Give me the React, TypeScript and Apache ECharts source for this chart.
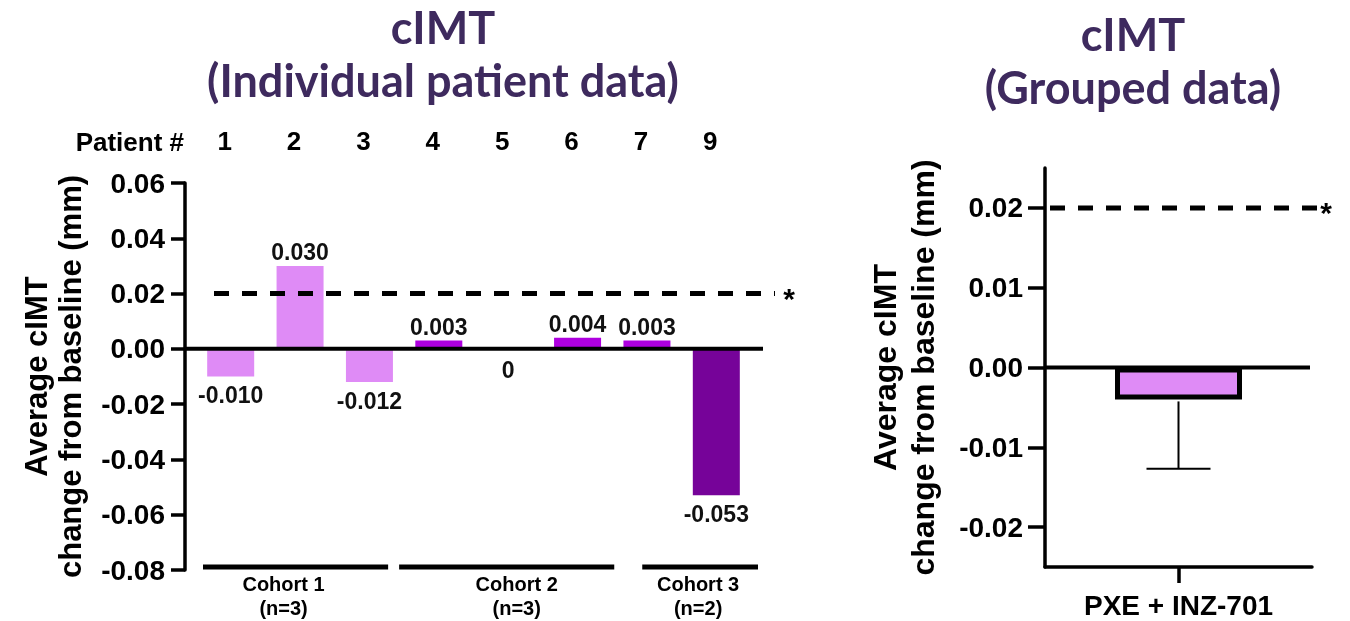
import { useEffect, useRef } from "react";
import * as echarts from "echarts";

// ---------- data ----------
const patients = ["1", "2", "3", "4", "5", "6", "7", "9"];
const changes = [-0.01, 0.03, -0.012, 0.003, 0, 0.004, 0.003, -0.053];
const cohortNames = ["Cohort 1", "Cohort 2", "Cohort 3"];
const cohortSizes = ["(n=3)", "(n=3)", "(n=2)"];
const cohortFirst = [0, 3, 6];
const cohortLast = [2, 5, 7];
const leftTicks = { min: -0.08, max: 0.06, interval: 0.02 };
const threshold = 0.02;

const groupNames = ["PXE + INZ-701"];
const groupMean = [-0.004];
const groupErr = [0.0087];
const rightTicks = [-0.02, -0.01, 0, 0.01, 0.02];
const rightRange = { min: -0.025, max: 0.025 };

const leftTitle = ["cIMT", "(Individual patient data)"];
const rightTitle = ["cIMT", "(Grouped data)"];

// ---------- styles / layout ----------
const barColors = ["#DF8BF6", "#DF8BF6", "#DF8BF6", "#AE00DF", "#AE00DF", "#AE00DF", "#AE00DF", "#760399"];
const FONT = "'Liberation Sans', Arial, Helvetica, sans-serif";
const TITLE_FONT = "Lato, 'Open Sans', sans-serif";
const TITLE_COLOR = "#3E2A5E";
const LEFT = { left: 196, top: 183, width: 555, height: 387, axisOffset: 11 };
const RIGHT = { left: 1045, top: 168, width: 267, height: 399 };
// bracket line adjustments (px) relative to the band edges: [start, end], and text shift
const cohortLineAdjust = [
  [7, -16],
  [-5, 2],
  [30, 7],
];
const cohortTextShift = [-12, 10, -2];

export default function App() {
  const ref = useRef<HTMLDivElement>(null);

  useEffect(() => {
    if (!ref.current) return;
    const chart = echarts.init(ref.current, undefined, { renderer: "svg" });

    const option: any = {
      animation: false,
      textStyle: { fontFamily: FONT },
      grid: [
        { left: LEFT.left, top: LEFT.top, width: LEFT.width, height: LEFT.height, containLabel: false },
        { left: RIGHT.left, top: RIGHT.top, width: RIGHT.width, height: RIGHT.height, containLabel: false },
      ],
      xAxis: [
        {
          type: "category",
          gridIndex: 0,
          data: patients,
          axisLine: { show: false },
          axisTick: { show: false },
          axisLabel: { show: false },
        },
        {
          type: "category",
          gridIndex: 0,
          position: "top",
          data: patients,
          axisLine: { show: false },
          axisTick: { show: false },
          axisLabel: {
            show: true,
            margin: 29,
            fontSize: 26,
            fontWeight: "bold",
            color: "#000",
            padding: [0, 12, 0, 0],
          },
        },
        {
          type: "category",
          gridIndex: 1,
          data: groupNames,
          axisLine: { show: true, onZero: false, lineStyle: { color: "#000", width: 3.5 } },
          axisTick: { show: true, alignWithLabel: true, length: 16, lineStyle: { color: "#000", width: 3.5 } },
          axisLabel: { margin: 24, fontSize: 28, fontWeight: "bold", color: "#000" },
        },
      ],
      yAxis: [
        {
          type: "value",
          gridIndex: 0,
          min: leftTicks.min,
          max: leftTicks.max,
          interval: leftTicks.interval,
          offset: LEFT.axisOffset,
          splitLine: { show: false },
          axisLine: { show: true, lineStyle: { color: "#000", width: 3.5 } },
          axisTick: { show: true, length: 14, lineStyle: { color: "#000", width: 3.5 } },
          axisLabel: {
            margin: 20,
            fontSize: 28,
            fontWeight: "bold",
            color: "#000",
            formatter: (v: number) => v.toFixed(2),
          },
          name: "Average cIMT\nchange from baseline (mm)",
          nameLocation: "middle",
          nameGap: 98,
          nameTextStyle: { fontSize: 31, fontWeight: "bold", color: "#000", lineHeight: 34 },
        },
        {
          type: "value",
          gridIndex: 1,
          min: rightRange.min,
          max: rightRange.max,
          splitLine: { show: false },
          axisLine: { show: true, lineStyle: { color: "#000", width: 3.5 } },
          axisTick: { show: true, length: 17, customValues: rightTicks, lineStyle: { color: "#000", width: 3.5 } },
          axisLabel: {
            margin: 22,
            fontSize: 28,
            fontWeight: "bold",
            color: "#000",
            customValues: rightTicks,
            formatter: (v: number) => v.toFixed(2),
          },
          name: "Average cIMT\nchange from baseline (mm)",
          nameLocation: "middle",
          nameGap: 103,
          nameTextStyle: { fontSize: 32, fontWeight: "bold", color: "#000", lineHeight: 38 },
        },
      ],
      series: [
        {
          type: "bar",
          xAxisIndex: 0,
          yAxisIndex: 0,
          barWidth: 47,
          data: changes.map((v, i) => ({
            value: v,
            itemStyle: { color: barColors[i] },
            label: { position: v > 0 ? "top" : "bottom", distance: v > 0 ? 2 : v === 0 ? 10 : 7 },
          })),
          label: {
            show: true,
            fontSize: 23,
            fontWeight: "bold",
            color: "#111",
            formatter: (p: any) => (p.value === 0 ? "0" : Number(p.value).toFixed(3)),
          },
        },
        {
          type: "bar",
          xAxisIndex: 2,
          yAxisIndex: 1,
          barWidth: 127,
          data: groupMean,
          itemStyle: { color: "#DF8BF6", borderColor: "#000", borderWidth: 5 },
          z: 3,
        },
        {
          type: "custom",
          xAxisIndex: 2,
          yAxisIndex: 1,
          data: groupMean.map((m, i) => [i, m, m - groupErr[i]]),
          z: 4,
          renderItem: (_p: any, api: any) => {
            const top = api.coord([api.value(0), api.value(1)]);
            const lo = api.coord([api.value(0), api.value(2)]);
            return {
              type: "group",
              children: [
                { type: "line", shape: { x1: top[0], y1: top[1] + 2, x2: top[0], y2: lo[1] }, style: { stroke: "#000", lineWidth: 2 } },
                { type: "line", shape: { x1: top[0] - 32, y1: lo[1], x2: top[0] + 32, y2: lo[1] }, style: { stroke: "#000", lineWidth: 2 } },
              ],
            };
          },
        },
      ],
    };
    chart.setOption(option);

    // overlay lines computed from the axes
    const yL = (v: number) => chart.convertToPixel({ yAxisIndex: 0 }, v) as number;
    const yR = (v: number) => chart.convertToPixel({ yAxisIndex: 1 }, v) as number;
    const xL = (i: number) => chart.convertToPixel({ xAxisIndex: 0 }, i) as number;
    const band = xL(1) - xL(0);
    const leftAxisX = LEFT.left - LEFT.axisOffset;
    const leftEnd = xL(patients.length - 1) + band / 2 + 12;

    const titleText = (text: string, x: number, y: number) => ({
      type: "text",
      x,
      y,
      style: {
        text,
        font: `bold 45px ${TITLE_FONT}`,
        fill: TITLE_COLOR,
        align: "center",
        verticalAlign: "middle",
      },
    });

    const graphics: any[] = [
      titleText(leftTitle[0], 443, 27),
      titleText(leftTitle[1], 443, 80),
      titleText(rightTitle[0], 1133, 34),
      titleText(rightTitle[1], 1133, 87),
      {
        type: "text",
        x: 184,
        y: 142,
        style: { text: "Patient #", font: `bold 26px ${FONT}`, fill: "#000", align: "right", verticalAlign: "middle" },
      },
      {
        type: "line",
        z: 5,
        shape: { x1: leftAxisX, y1: yL(0), x2: leftEnd, y2: yL(0) },
        style: { stroke: "#000", lineWidth: 4 },
      },
      {
        type: "line",
        z: 5,
        shape: { x1: leftAxisX + 29, y1: yL(threshold), x2: leftEnd + 12, y2: yL(threshold) },
        style: { stroke: "#000", lineWidth: 5, lineDash: [15, 13] },
      },
      {
        type: "text",
        x: leftEnd + 26,
        y: yL(threshold) + 5,
        style: { text: "*", font: `bold 30px ${FONT}`, fill: "#000", align: "center", verticalAlign: "middle" },
      },
      {
        type: "line",
        z: 5,
        shape: { x1: RIGHT.left, y1: yR(0), x2: RIGHT.left + RIGHT.width - 2, y2: yR(0) },
        style: { stroke: "#000", lineWidth: 4 },
      },
      {
        type: "line",
        z: 5,
        shape: { x1: RIGHT.left + 5, y1: yR(threshold), x2: RIGHT.left + RIGHT.width + 8, y2: yR(threshold) },
        style: { stroke: "#000", lineWidth: 5, lineDash: [15, 13] },
      },
      {
        type: "text",
        x: RIGHT.left + RIGHT.width + 14,
        y: yR(threshold) + 5,
        style: { text: "*", font: `bold 30px ${FONT}`, fill: "#000", align: "center", verticalAlign: "middle" },
      },
    ];

    const yBottom = yL(leftTicks.min) - 3;
    cohortNames.forEach((name, k) => {
      const x1 = xL(cohortFirst[k]) - band / 2 + cohortLineAdjust[k][0];
      const x2 = xL(cohortLast[k]) + band / 2 + cohortLineAdjust[k][1];
      const cx = (x1 + x2) / 2 + cohortTextShift[k];
      graphics.push(
        { type: "line", shape: { x1, y1: yBottom, x2, y2: yBottom }, style: { stroke: "#000", lineWidth: 5 } },
        {
          type: "text",
          x: cx,
          y: 584,
          style: { text: name, font: `bold 20px ${FONT}`, fill: "#000", align: "center", verticalAlign: "middle" },
        },
        {
          type: "text",
          x: cx,
          y: 608,
          style: { text: cohortSizes[k], font: `bold 20px ${FONT}`, fill: "#000", align: "center", verticalAlign: "middle" },
        }
      );
    });

    chart.setOption({ graphic: graphics });

    return () => chart.dispose();
  }, []);

  return <div ref={ref} style={{ position: "fixed", left: 0, top: 0, width: 1350, height: 621 }} />;
}
